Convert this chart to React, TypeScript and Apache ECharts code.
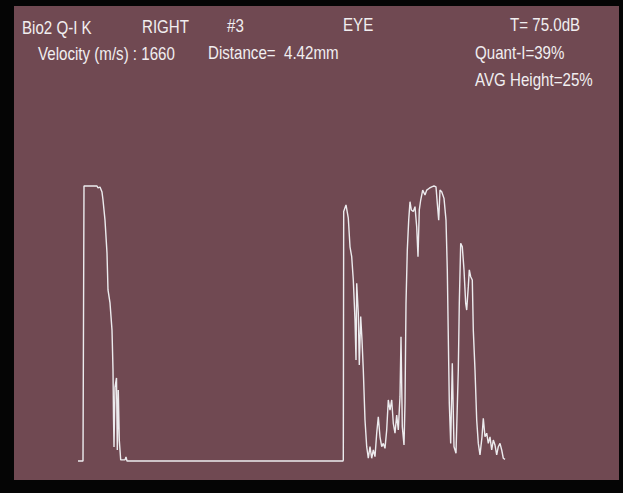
import React, { useEffect, useRef } from "react";
import * as echarts from "echarts";

// A-scan trace: position along the scan (samples) and echo amplitude (% of saturation)
const leftPos = [0, 5, 6, 19, 20, 22, 24, 25, 27, 29, 30, 32, 34, 35, 35.5, 36, 37, 38.5, 39.3, 40.3, 41.3, 42.7, 47, 48, 49, 265];
const leftAmp = [0, 0, 100, 100, 99.3, 99.6, 97.8, 94.9, 87.6, 75.6, 62.2, 57.5, 47.6, 33.1, 16, 5.1, 26.9, 30.2, 4, 25.8, 7.6, 0.4, 0.4, 1.5, 0, 0];

const rightPos = [
  265.3, 265.7, 268, 270.3, 272, 273.7, 275.3, 277, 278, 278.7, 280.3, 281.3, 282.7, 284, 285.3, 287, 288.7, 290.3,
  292, 293.7, 295.3, 297, 298.7, 300.3, 302, 303.7, 305.3, 307, 308.7, 310.3, 312, 313.7, 315.3, 317, 318.7, 320.3,
  322, 323, 324.3, 326, 327, 328, 329.3, 330.7, 332, 333.3, 335.3, 337, 338.7, 340, 341.3, 342.7, 344.7, 347, 348.7,
  351.3, 353.7, 356, 358, 359.3, 360.7, 362, 363.7, 366, 368, 369.3, 370.3, 371.3, 372.7, 374.3, 376, 378, 380.3,
  381.3, 382.7, 384.3, 386, 387.7, 388.7, 390.3, 391.3, 392.7, 394.3, 395.3, 397, 398.7, 400.3, 402, 404, 405.3,
  407, 408.7, 410.3, 412, 413.7, 415.3, 417, 418.7, 420.3, 422, 423.7, 425.3, 427,
];
const rightAmp = [
  0.4, 90.7, 93.1, 88.3, 77.9, 74.3, 65.8, 51.3, 36.7, 64.6, 53.7, 34.9, 52.5, 44, 33.1, 14.9, 5.2, 1,
  5.2, 1, 4, 1.6, 10.1, 16.1, 8.8, 5.2, 6.4, 4.6, 11.3, 22.2, 18.5, 22.2, 13.7, 10.1, 16.7, 11.3,
  23.4, 45.2, 12.5, 5.8, 21, 57.3, 76.7, 87.6, 94.3, 91.3, 90.7, 92.5, 85.2, 74.3, 91.3, 94.9, 98.5, 96.7, 98.5,
  99.2, 99.7, 100, 99.7, 93.7, 87.6, 98.5, 97.9, 95.5, 87.6, 69.5, 45.2, 21, 6.4, 35.5, 5.2, 2.8, 33.1,
  57.3, 79.2, 77.9, 69.5, 57.3, 54.9, 63.4, 69.5, 67, 65.8, 47.6, 33.1, 14.9, 6.4, 2.2, 8.8, 15.5,
  8.8, 10.1, 6.4, 8.8, 4, 7.6, 5.8, 2.2, 5.2, 6.4, 4, 1, 0.6,
];

const headerLeft = ["Bio2 Q-I K", "RIGHT", "#3", "EYE"];
const headerLine2 = ["Velocity (m/s) : 1660", "Distance=  4.42mm"];
const headerRight = ["T= 75.0dB", "Quant-I=39%", "AVG Height=25%"];

export default function App() {
  const ref = useRef<HTMLDivElement>(null);
  useEffect(() => {
    if (!ref.current) return;
    const chart = echarts.init(ref.current, undefined, { renderer: "svg" });
    const positions = [...leftPos, ...rightPos];
    const amps = [...leftAmp, ...rightAmp];
    const data = positions.map((p, i) => [p, amps[i]]);
    const font = "18px 'Liberation Sans', Arial, sans-serif";
    const txt = (text: string, x: number, y: number) => ({
      type: "text",
      x,
      y,
      scaleX: 0.84,
      silent: true,
      style: { text, fill: "#f1eef0", font, verticalAlign: "middle", align: "left" },
    });
    chart.setOption({
      animation: false,
      backgroundColor: "#050505",
      grid: { left: 78, top: 186, width: 430, height: 275 },
      xAxis: { type: "value", min: 0, max: 430, show: false },
      yAxis: { type: "value", min: 0, max: 100, show: false },
      graphic: [
        { type: "rect", z: -10, silent: true, shape: { x: 14, y: 6, width: 605, height: 474 }, style: { fill: "#704952" } },
        txt(headerLeft[0], 22, 28),
        txt(headerLeft[1], 142, 27),
        txt(headerLeft[2], 227, 26),
        txt(headerLeft[3], 343, 25),
        txt(headerLine2[0], 38, 54),
        txt(headerLine2[1], 208, 53),
        txt(headerRight[0], 510, 25),
        txt(headerRight[1], 475, 53),
        txt(headerRight[2], 475, 80),
      ],
      series: [
        {
          type: "line",
          data,
          showSymbol: false,
          clip: false,
          lineStyle: { color: "#ecebee", width: 1.4 },
          silent: true,
        },
      ],
    });
    return () => chart.dispose();
  }, []);
  return <div ref={ref} style={{ position: "fixed", left: 0, top: 0, width: 623, height: 493 }} />;
}
